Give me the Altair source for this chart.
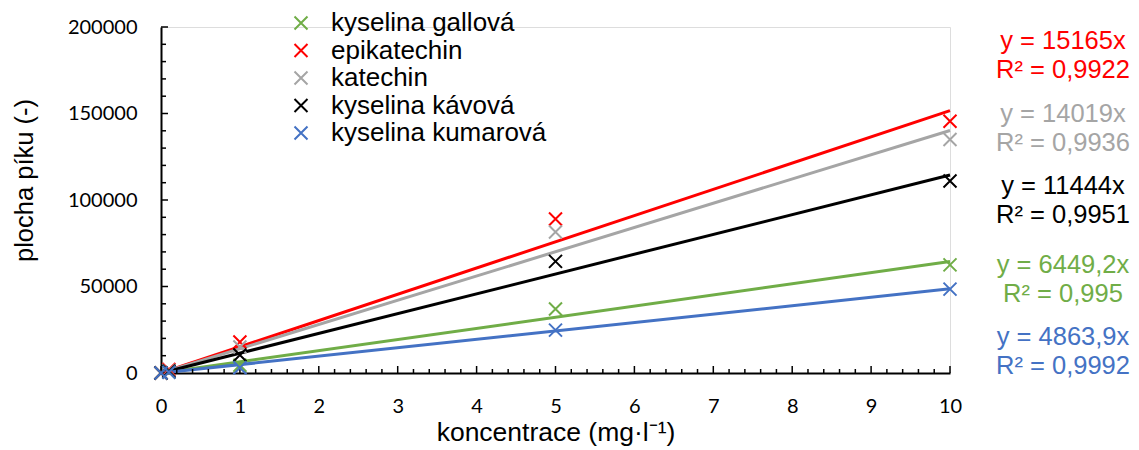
import altair as alt
import pandas as pd

# ---- data ----
series = ["kyselina gallová", "epikatechin", "katechin", "kyselina kávová", "kyselina kumarová"]
colors = ["#70AD47", "#FF0000", "#A5A5A5", "#000000", "#4472C4"]
conc = [0, 0.1, 1, 5, 10]
gallova = [0, 500, 4500, 37000, 62500]
epikatechin = [0, 2000, 17900, 89000, 145500]
katechin = [0, 1500, 15000, 81500, 135000]
kavova = [0, 1000, 10400, 64500, 111000]
kumarova = [0, 400, 3000, 24800, 48500]
slopes = [6449.2, 15165, 14019, 11444, 4863.9]
eq_labels = ["y = 6449,2x", "y = 15165x", "y = 14019x", "y = 11444x", "y = 4863,9x"]
r2_labels = ["R² = 0,995", "R² = 0,9922", "R² = 0,9936", "R² = 0,9951", "R² = 0,9992"]
label_y = [53800, 183500, 141600, 99900, 12400]

x_major = [0, 1, 2, 3, 4, 5, 6, 7, 8, 9, 10]
x_minor = [round(i * 0.2, 1) for i in range(51) if i % 5 != 0]
y_major = [0, 50000, 100000, 150000, 200000]
y_minor = [v for v in range(0, 200001, 10000) if v % 50000 != 0]

# ---- tables ----
vals = [gallova, epikatechin, katechin, kavova, kumarova]
pts = pd.DataFrame([
    {"series": s, "conc": c, "area": v}
    for s, vs in zip(series, vals) for c, v in zip(conc, vs)
])
lines = pd.DataFrame([
    {"series": s, "hex": col, "conc": x, "area": k * x}
    for s, col, k in zip(series, colors, slopes) for x in (0, 10)
])
labels = pd.DataFrame({"series": series, "hex": colors, "eq": eq_labels,
                       "r2": r2_labels, "area": label_y})
xmaj = pd.DataFrame({"conc": x_major})
xmin = pd.DataFrame({"conc": x_minor})
ymaj = pd.DataFrame({"area": y_major})
ymin = pd.DataFrame({"area": y_minor})

W, H = 789, 346
XPATH = "M-1,-1L1,1M1,-1L-1,1"
ARIAL = "Liberation Sans"
TICKF = "Lato"

xs = alt.Scale(domain=[0, 10], nice=False, zero=False)
ys = alt.Scale(domain=[0, 200000], nice=False)
xaxis = alt.Axis(values=x_major, grid=False, ticks=False, tickSize=0, labelFlush=False,
                 labelFont=TICKF, labelFontSize=20, labelColor="black",
                 labelPadding=23, domainColor="black", domainWidth=2,
                 title="koncentrace (mg·l⁻¹)", titleFont=ARIAL, titleFontSize=26.5,
                 titleFontWeight="normal", titleColor="black",
                 titleY=67, titleBaseline="alphabetic")
yaxis = alt.Axis(values=y_major, format="d", grid=False, ticks=False, tickSize=0,
                 labelFlush=False,
                 labelFont=TICKF, labelFontSize=20, labelColor="black",
                 labelPadding=24, domainColor="black", domainWidth=2,
                 title="plocha píku (-)", titleFont=ARIAL, titleFontSize=25.5,
                 titleFontWeight="normal", titleColor="black",
                 titleX=-129, titleY=153, titleAngle=-90, titleAlign="center",
                 titleBaseline="alphabetic")
X = alt.X("conc:Q", scale=xs, axis=xaxis)
Y = alt.Y("area:Q", scale=ys, axis=yaxis)

line_layer = alt.Chart(lines).mark_line(strokeWidth=3).encode(
    x=X, y=Y, color=alt.Color("hex:N", scale=None), detail="series:N")

point_layer = alt.Chart(pts).mark_point(shape=XPATH, size=169, strokeWidth=2,
                                         filled=False, opacity=1).encode(
    x=X, y=Y,
    color=alt.Color("series:N", scale=alt.Scale(domain=series, range=colors),
                    sort=series,
                    legend=alt.Legend(title=None, orient="none", legendX=127, legendY=-17,
                                      symbolType=XPATH, symbolSize=169, symbolStrokeWidth=2,
                                      labelFont=ARIAL, labelFontSize=26, labelOffset=17,
                                      labelLimit=0,
                                      labelColor="black", rowPadding=1.5, padding=0)))

xt_major = alt.Chart(xmaj).mark_rule(color="black", strokeWidth=1.5).encode(
    x=X, y=alt.value(H), y2=alt.value(H - 7))
xt_minor = alt.Chart(xmin).mark_rule(color="black", strokeWidth=1.5).encode(
    x=X, y=alt.value(H), y2=alt.value(H - 4))
yt_major = alt.Chart(ymaj).mark_rule(color="black", strokeWidth=1.5).encode(
    y=Y, x=alt.value(0), x2=alt.value(7))
yt_minor = alt.Chart(ymin).mark_rule(color="black", strokeWidth=1.5).encode(
    y=Y, x=alt.value(0), x2=alt.value(5))

eq_layer = alt.Chart(labels).mark_text(font=ARIAL, fontSize=25.5, align="center",
                                       baseline="middle", dy=-14.5).encode(
    x=alt.value(902), y=Y, text="eq:N", color=alt.Color("hex:N", scale=None))
r2_layer = alt.Chart(labels).mark_text(font=ARIAL, fontSize=25.5, align="center",
                                       baseline="middle", dy=14.5).encode(
    x=alt.value(902), y=Y, text="r2:N", color=alt.Color("hex:N", scale=None))

chart = alt.layer(line_layer, xt_major, xt_minor, yt_major, yt_minor,
                  point_layer, eq_layer, r2_layer).properties(
    width=W, height=H,
    autosize=alt.AutoSizeParams(type="none"),
    padding={"left": 153, "top": 19, "right": 181, "bottom": 77},
).configure_view(stroke=None).configure(background="white")

chart.save("out.html", embed_options={"renderer": "svg", "actions": False})
